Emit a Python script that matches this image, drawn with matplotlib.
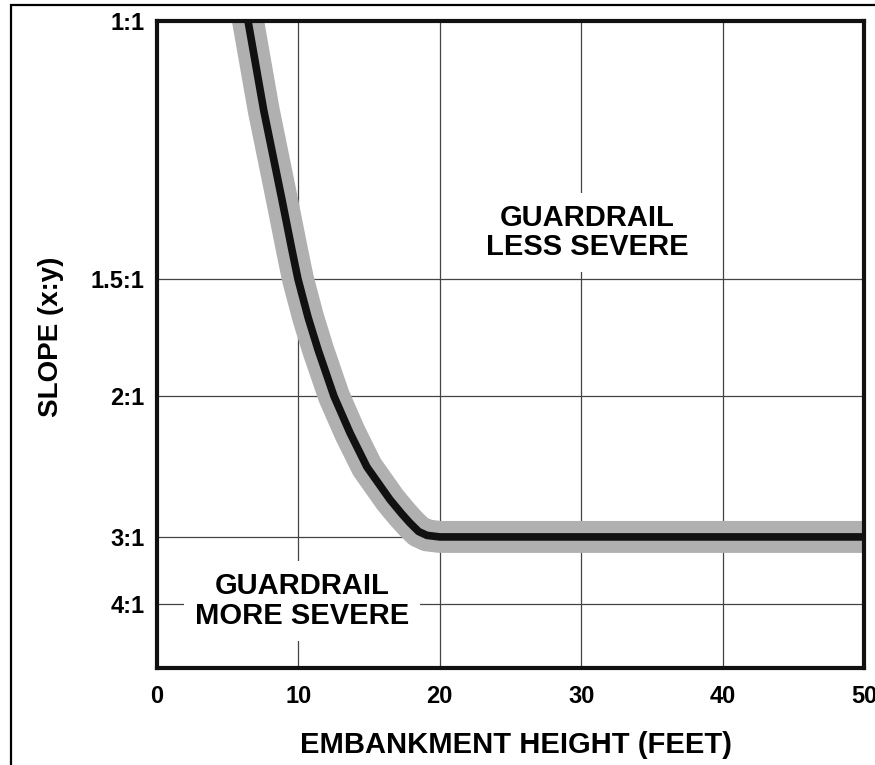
import numpy as np
import matplotlib.pyplot as plt
from matplotlib.patches import Rectangle

# embankment height (ft) vs slope, slope given as y/x ratio (1:1 -> 1.0)
height_ft = [6.15, 6.44, 7.55, 8.84, 9.55, 9.97, 10.68, 11.39, 12.52, 13.65,
             14.85, 16.48, 17.3, 17.89, 18.5, 19.09, 20.0, 50.0]
slope_ratio = [1.027, 1.0, 0.885, 0.770, 0.705, 0.668, 0.619, 0.577, 0.517, 0.470,
               0.426, 0.384, 0.366, 0.354, 0.343, 0.338, 0.336, 0.336]

x_ticks = [0, 10, 20, 30, 40, 50]
x_grid = [10, 20, 30, 40]
y_ticks = [1.0, 0.668, 0.517, 0.336, 0.25]
y_labels = ['1:1', '1.5:1', '2:1', '3:1', '4:1']

plt.rcParams['font.family'] = ['Liberation Sans', 'DejaVu Sans']
plt.rcParams['font.weight'] = 'bold'

fig = plt.figure(figsize=(8.75, 7.65), dpi=100)
ax = fig.add_axes([0.1794, 0.1268, 0.808, 0.8457])

ax.set_xlim(0, 50)
ax.set_ylim(0.1673, 1.0)

for gx in x_grid:
    ax.axvline(gx, color='#444444', lw=0.9, zorder=1)
for gy in y_ticks:
    ax.axhline(gy, color='#444444', lw=0.9, zorder=1)

# shaded band and centre line
ax.plot(height_ft, slope_ratio, color='#b0b0b0', lw=23, solid_capstyle='butt',
        solid_joinstyle='round', zorder=2)
ax.plot(height_ft, slope_ratio, color='#111111', lw=5.5, solid_joinstyle='round', zorder=3)

box = dict(facecolor='white', edgecolor='none', pad=8)
ax.text(30.4, 0.728, 'GUARDRAIL\nLESS SEVERE', ha='center', va='center',
        fontsize=21, fontweight='bold', linespacing=1.05, bbox=box, zorder=4)
ax.text(10.25, 0.2535, 'GUARDRAIL\nMORE SEVERE', ha='center', va='center',
        fontsize=21, fontweight='bold', linespacing=1.05, bbox=box, zorder=4)

ax.set_xticks(x_ticks)
ax.set_xticklabels([str(t) for t in x_ticks], fontsize=17, fontweight='bold')
ax.set_yticks(y_ticks)
ax.set_yticklabels(y_labels, fontsize=17, fontweight='bold')
ax.tick_params(length=0, pad=9)
ax.tick_params(axis='x', pad=12)

ax.set_xlabel('EMBANKMENT HEIGHT (FEET)', fontsize=21, fontweight='bold', va='center')
ax.xaxis.set_label_coords(0.508, -0.119)
ax.set_ylabel('SLOPE (x:y)', fontsize=20, fontweight='bold', va='center')
ax.yaxis.set_label_coords(-0.150, 0.512)

for s in ax.spines.values():
    s.set_linewidth(3)
    s.set_color('#111111')
    s.set_zorder(5)

# outer frame of the figure
fig.patches.append(Rectangle((11 / 875, -0.05), 1.1, 1 - 5 / 765 + 0.05,
                             transform=fig.transFigure, fill=False,
                             edgecolor='black', lw=1.6))

fig.savefig('out.png', dpi=100)
